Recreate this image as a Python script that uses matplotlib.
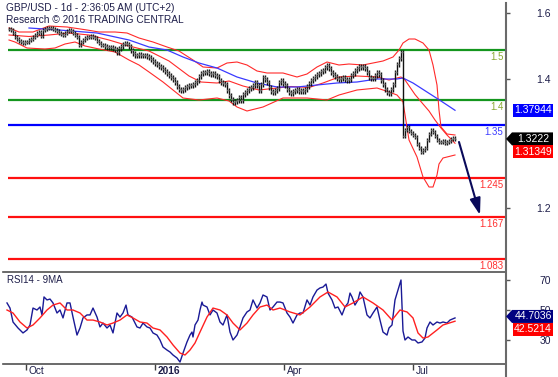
import numpy as np
import matplotlib
matplotlib.use("Agg")
import matplotlib.pyplot as plt
import matplotlib.transforms as mtrans
from matplotlib.patches import Polygon

plt.rcParams['font.family'] = ['Liberation Sans', 'DejaVu Sans']

W, H = 558, 377

# daily closes GBP/USD, bar 0 = mid Sep 2015
closes = [
    1.542, 1.540, 1.534, 1.526, 1.522, 1.518, 1.516, 1.514, 1.516, 1.516,
    1.520, 1.522, 1.526, 1.530, 1.534, 1.536, 1.528, 1.540, 1.542, 1.544,
    1.544, 1.544, 1.542, 1.540, 1.538, 1.534, 1.532, 1.530, 1.534, 1.538,
    1.540, 1.538, 1.534, 1.530, 1.526, 1.510, 1.516, 1.520, 1.524, 1.526,
    1.526, 1.528, 1.526, 1.524, 1.518, 1.514, 1.510, 1.510, 1.508, 1.506,
    1.506, 1.506, 1.504, 1.502, 1.496, 1.504, 1.508, 1.512, 1.514, 1.512,
    1.508, 1.500, 1.494, 1.490, 1.490, 1.492, 1.490, 1.490, 1.490, 1.488,
    1.486, 1.482, 1.478, 1.474, 1.472, 1.468, 1.466, 1.462, 1.458, 1.454,
    1.450, 1.446, 1.442, 1.436, 1.428, 1.422, 1.420, 1.422, 1.426, 1.428,
    1.430, 1.430, 1.432, 1.436, 1.440, 1.448, 1.454, 1.456, 1.456, 1.458,
    1.454, 1.452, 1.454, 1.450, 1.448, 1.440, 1.436, 1.434, 1.432, 1.420,
    1.410, 1.402, 1.396, 1.398, 1.400, 1.406, 1.400, 1.412, 1.416, 1.420,
    1.424, 1.426, 1.430, 1.436, 1.430, 1.420, 1.432, 1.446, 1.442, 1.436,
    1.426, 1.418, 1.416, 1.420, 1.424, 1.436, 1.440, 1.434, 1.430, 1.422,
    1.416, 1.414, 1.418, 1.420, 1.422, 1.418, 1.420, 1.418, 1.422, 1.428,
    1.434, 1.440, 1.444, 1.448, 1.452, 1.454, 1.458, 1.460, 1.466, 1.470,
    1.464, 1.456, 1.452, 1.448, 1.444, 1.442, 1.444, 1.446, 1.442, 1.440,
    1.442, 1.450, 1.454, 1.460, 1.464, 1.468, 1.466, 1.468, 1.464, 1.456,
    1.446, 1.444, 1.444, 1.450, 1.456, 1.452, 1.440, 1.432, 1.422, 1.416,
    1.414, 1.422, 1.432, 1.456, 1.472, 1.484, 1.496, 1.328, 1.340, 1.346,
    1.338, 1.334, 1.330, 1.326, 1.312, 1.304, 1.296, 1.300, 1.304, 1.320,
    1.332, 1.340, 1.336, 1.328, 1.320, 1.316, 1.316, 1.318, 1.314, 1.316,
    1.318, 1.322, 1.324, 1.3222]

up_i = [0, 5, 12, 20, 29, 39, 45, 53, 59, 65, 72, 79, 85, 92, 97, 104, 109, 114, 119, 124,
        129, 137, 144, 149, 154, 159, 165, 170, 177, 187, 192, 195, 197, 200, 203, 207, 210,
        212, 214, 215, 216, 219, 223]
up_v = [1.544, 1.536, 1.536, 1.548, 1.546, 1.540, 1.536, 1.536, 1.534, 1.524, 1.516, 1.506,
        1.498, 1.480, 1.466, 1.464, 1.474, 1.476, 1.470, 1.458, 1.454, 1.454, 1.446, 1.452,
        1.466, 1.476, 1.470, 1.472, 1.470, 1.478, 1.486, 1.500, 1.514, 1.522, 1.522, 1.514,
        1.500, 1.470, 1.430, 1.380, 1.346, 1.332, 1.330]
mid_i = [0, 10, 20, 30, 40, 50, 60, 70, 80, 90, 96, 104, 110, 117, 125, 134, 141, 150, 157,
         165, 174, 184, 190, 196, 198, 203, 207, 210, 213, 216, 219, 223]
mid_v = [1.530, 1.527, 1.530, 1.534, 1.530, 1.520, 1.508, 1.498, 1.478, 1.448, 1.436, 1.434,
         1.438, 1.428, 1.420, 1.424, 1.427, 1.425, 1.434, 1.446, 1.448, 1.446, 1.440, 1.446,
         1.440, 1.411, 1.392, 1.378, 1.360, 1.344, 1.330, 1.31349]
lo_i = [0, 3, 9, 18, 23, 28, 33, 38, 45, 53, 60, 65, 70, 77, 82, 87, 95, 104, 110, 114,
        119, 127, 137, 149, 159, 165, 174, 184, 190, 194, 197, 200, 204, 207, 210, 212, 214,
        215, 217, 223]
lo_v = [1.520, 1.516, 1.504, 1.502, 1.504, 1.512, 1.516, 1.508, 1.502, 1.496, 1.480, 1.470,
        1.456, 1.436, 1.420, 1.404, 1.400, 1.404, 1.398, 1.386, 1.378, 1.386, 1.404, 1.404,
        1.400, 1.410, 1.420, 1.424, 1.416, 1.410, 1.396, 1.320, 1.286, 1.246, 1.226, 1.226,
        1.250, 1.272, 1.284, 1.290]
# moving average (blue)
ma_i = [10, 25, 44, 60, 70, 79, 87, 95, 104, 114, 124, 134, 144, 154, 164, 174, 184, 194,
        197, 202, 209, 216, 223]
ma_v = [1.544, 1.540, 1.534, 1.520, 1.506, 1.500, 1.486, 1.474, 1.464, 1.446, 1.434, 1.426,
        1.426, 1.430, 1.434, 1.436, 1.442, 1.442, 1.444, 1.434, 1.416, 1.398, 1.37944]

# RSI14 and its 9MA
rsi_i = [-1, 0.5, 2, 4.5, 7, 9, 10.5, 12, 14, 15.5, 16.5, 17.5, 19, 20.5, 22, 24, 25.5, 27,
         29, 30.5, 32, 34, 35.5, 37, 39, 40.5, 42, 44, 45.5, 47, 49, 50.5, 52, 54, 55.5, 57,
         58.5, 59.5, 61.5, 64, 65.5, 67, 69, 70.5, 72, 74, 75.5, 77, 79, 80.5, 82, 84, 85.5,
         87, 89, 90.5, 91.5, 92, 93, 94.5, 95.5, 96.5, 97, 99, 100.5, 102, 104, 105.5, 107,
         109, 110.5, 112, 114, 115.5, 117, 119, 120.5, 122, 124, 125.5, 127, 129, 130.5, 132,
         134, 135.5, 137, 139, 140.5, 142, 144, 145.5, 147, 149, 150.5, 152, 154, 155.5, 157,
         158.5, 159.5, 161.5, 163, 164.5, 166.5, 168, 169.5, 170.5, 171.5, 173, 174.5, 175.5,
         177, 179, 180.5, 182, 184, 185.5, 187, 189, 190, 191.5, 193, 194.5, 196, 197, 198,
         199.5, 201.5, 203, 204.5, 206.5, 208, 209, 210.5, 212, 214, 215.5, 217, 219, 220.5,
         223]
rsi_v = [54.7, 51.3, 42.0, 38.0, 34.7, 36.7, 40.0, 51.3, 50.0, 52.0, 46.7, 58.7, 56.7, 57.3,
         54.7, 48.0, 50.0, 44.7, 54.7, 54.7, 45.3, 33.3, 38.0, 44.7, 46.7, 46.7, 51.3, 45.3,
         38.7, 41.3, 38.0, 40.0, 34.7, 48.0, 45.3, 48.0, 53.3, 46.7, 45.3, 38.7, 38.0, 41.3,
         38.7, 38.0, 34.7, 33.3, 30.0, 25.3, 23.3, 22.0, 20.0, 18.0, 15.3, 21.3, 28.7, 33.3,
         35.3, 32.0, 40.0, 43.3, 50.0, 55.3, 53.3, 52.0, 46.7, 50.0, 48.0, 42.0, 40.0, 46.7,
         35.3, 30.0, 33.3, 38.7, 44.7, 48.7, 50.0, 56.7, 51.3, 54.7, 60.0, 58.7, 50.0, 52.0,
         55.3, 55.3, 54.7, 48.0, 45.3, 41.3, 46.7, 48.0, 48.0, 56.7, 53.3, 58.7, 63.3, 64.7,
         65.3, 67.3, 61.3, 56.7, 51.3, 52.0, 46.7, 52.0, 54.7, 61.3, 58.7, 53.3, 56.7, 62.0,
         58.7, 46.7, 44.7, 48.0, 52.0, 43.3, 35.3, 33.3, 38.0, 40.0, 56.7, 63.3, 70.0, 36.0,
         30.0, 32.0, 30.0, 30.0, 28.0, 28.7, 31.3, 38.0, 42.0, 40.0, 42.0, 41.3, 42.0, 41.3,
         43.3, 44.7036]
rma_i = [-1, 2, 5.5, 9, 12, 15.5, 19, 22, 25.5, 29, 32, 35.5, 39, 42, 45.5, 49, 52, 55.5, 59,
         62, 65.5, 69, 72, 75.5, 79, 82, 85.5, 88, 90.5, 93, 95.5, 99, 102, 105.5, 109, 112,
         115.5, 119, 122, 125.5, 129, 132, 135.5, 140.5, 145.5, 150.5, 155.5, 159.5, 164, 168,
         172, 177, 182, 187, 191.5, 195.5, 199, 202, 204.5, 207, 209.5, 214, 217, 223]
rma_v = [50.0, 48.0, 42.0, 38.0, 40.0, 44.7, 50.0, 53.3, 54.7, 50.0, 50.0, 48.0, 43.3, 43.3,
         42.0, 40.0, 41.3, 43.3, 46.7, 44.7, 42.0, 41.3, 38.0, 36.7, 32.0, 26.7, 21.3, 20.0,
         23.3, 28.0, 35.3, 45.3, 51.3, 50.0, 46.7, 41.3, 36.7, 41.3, 46.7, 52.0, 53.3, 50.0,
         51.3, 48.7, 46.7, 52.0, 58.7, 62.0, 58.7, 52.0, 54.7, 58.7, 54.7, 50.0, 43.3, 50.0,
         48.7, 44.7, 34.7, 31.3, 32.0, 36.7, 40.0, 42.5214]

levels = [1.5, 1.4, 1.35, 1.245, 1.167, 1.083]
level_lab = ['1.5', '1.4', '1.35', '1.245', '1.167', '1.083']
level_col = ['#14961e', '#14961e', '#0000ff', '#ff1010', '#ff1010', '#ff1010']
level_txt = ['#8aa832', '#8aa832', '#3c3cff', '#ff3030', '#ff3030', '#ff3030']

xtick_pos = [8.5, 73, 137.5, 202]
xtick_lab = ['Oct', '2016', 'Apr', 'Jul']
ytick_pos = [1.574, 1.442, 1.184]
ytick_lab = ['1.6', '1.4', '1.2']
rsi_ticks = [70, 50, 30]
arrow_from = (225, 1.316)
arrow_to = (235.5, 1.170)

wick = 0.005
txtc = '#1e1e4a'


def fx(x):
    return x / W


def fy(y):
    return 1 - y / H


fig = plt.figure(figsize=(W / 100, H / 100), dpi=100)
ax = fig.add_axes([fx(3), fy(272), fx(506) - fx(3), fy(0) - fy(272)])
ar = fig.add_axes([fx(3), fy(364), fx(506) - fx(3), fy(272) - fy(364)])

for a in (ax, ar):
    a.set_xlim(-3, 248.5)
    for s in a.spines.values():
        s.set_visible(False)
ax.set_ylim(1.6 - 272 / 500, 1.6)
ar.set_ylim(14, 70 + 8 / 1.5)

# price bars
c = np.array(closes)
o = np.r_[c[0], c[:-1]]
idx = np.arange(len(c))
ax.vlines(idx, np.minimum(o, c) - wick, np.maximum(o, c) + wick, color='#111111', lw=1.0, zorder=4)
ax.hlines(o, idx - 0.75, idx, color='#808080', lw=1.0, zorder=4)
ax.hlines(c, idx, idx + 0.75, color='#808080', lw=1.0, zorder=4)

ax.plot(up_i, up_v, color='#ff2a2a', lw=0.8, zorder=3)
ax.plot(mid_i, mid_v, color='#ff2a2a', lw=0.8, zorder=3)
ax.plot(lo_i, lo_v, color='#ff2a2a', lw=0.8, zorder=3)
ax.plot(ma_i, ma_v, color='#3a3aff', lw=0.9, zorder=3)

ax.hlines(levels, -0.5, 248.5, colors=level_col, lw=1.6, zorder=2)
for lv, lab, col in zip(levels, level_lab, level_txt):
    ax.text(247.2, lv - 0.0145, lab, color=col, fontsize=7, ha='right', va='center')

ax.annotate('', xy=arrow_to, xytext=arrow_from,
            arrowprops=dict(arrowstyle='-|>,head_length=1.0,head_width=0.32',
                            color='#0a0a5a', lw=1.5, shrinkA=0, shrinkB=0), zorder=6)

ax.set_xticks([])
ax.set_yticks(ytick_pos, ytick_lab)
ax.tick_params(axis='y', left=False, labelleft=False, right=True, labelright=True,
               length=3, width=1, color='#555555', pad=19, labelsize=7.5, labelcolor=txtc)

# RSI panel
ar.plot(rsi_i, rsi_v, color='#1a1a96', lw=1.0)
ar.plot(rma_i, rma_v, color='#ff2020', lw=1.0)
ar.spines['top'].set_visible(True)
ar.spines['bottom'].set_visible(True)
for s in ('top', 'bottom'):
    ar.spines[s].set_color('#505050')
    ar.spines[s].set_linewidth(1.2)
ar.set_yticks(rsi_ticks, [str(t) for t in rsi_ticks])
ar.tick_params(axis='y', left=False, labelleft=False, right=True, labelright=True,
               length=3, width=1, color='#555555', pad=21, labelsize=7.5, labelcolor=txtc)
ar.set_xticks(xtick_pos, xtick_lab)
ar.tick_params(axis='x', length=4, width=1, color='#404040', pad=-2.2, labelsize=7.3, labelcolor=txtc)
shift = mtrans.ScaledTranslation(2.5 / 100, 0, fig.dpi_scale_trans)
for t in ar.get_xticklabels():
    t.set_ha('left')
    t.set_transform(t.get_transform() + shift)
    if t.get_text() == '2016':
        t.set_fontweight('bold')
fig.text(fx(7), fy(280), 'RSI14 - 9MA', fontsize=7, color=txtc, ha='left', va='center')

# right axis line
fig.add_artist(plt.Line2D([fx(506), fx(506)], [fy(3), fy(377)], color='#6a6a6a', lw=1.5))

fig.text(fx(6), fy(8), 'GBP/USD - 1d - 2:36:05 AM (UTC+2)', fontsize=7.3, color=txtc, va='center')
fig.text(fx(6), fy(20), 'Research \u00a9 2016 TRADING CENTRAL', fontsize=7.3, color=txtc, va='center')


def ypx(a, val):
    return H - a.transData.transform((0, val))[1]


def tag(yc, text, color, pointer=False):
    h = 6.5
    if pointer:
        pts = [(506, yc), (512, yc - h), (553, yc - h), (553, yc + h), (512, yc + h)]
    else:
        pts = [(513, yc - h), (553, yc - h), (553, yc + h), (513, yc + h)]
    fig.add_artist(Polygon([(fx(x), fy(y)) for x, y in pts], closed=True,
                           transform=fig.transFigure, facecolor=color, edgecolor='none', zorder=5))
    fig.text(fx(533), fy(yc), text, color='white', fontsize=7.5, ha='center', va='center', zorder=6)


tag(ypx(ax, ma_v[-1]), f'{ma_v[-1]:.5f}', '#0000ff')
yc = ypx(ax, closes[-1])
tag(yc, f'{closes[-1]:.4f}', '#000000', pointer=True)
tag(yc + 13, f'{mid_v[-1]:.5f}', '#ff0000')
yr = ypx(ar, rsi_v[-1]) - 1.5
tag(yr, f'{rsi_v[-1]:.4f}', '#000080', pointer=True)
tag(yr + 13, f'{rma_v[-1]:.4f}', '#ff0000')

fig.savefig('out.png', dpi=100)
